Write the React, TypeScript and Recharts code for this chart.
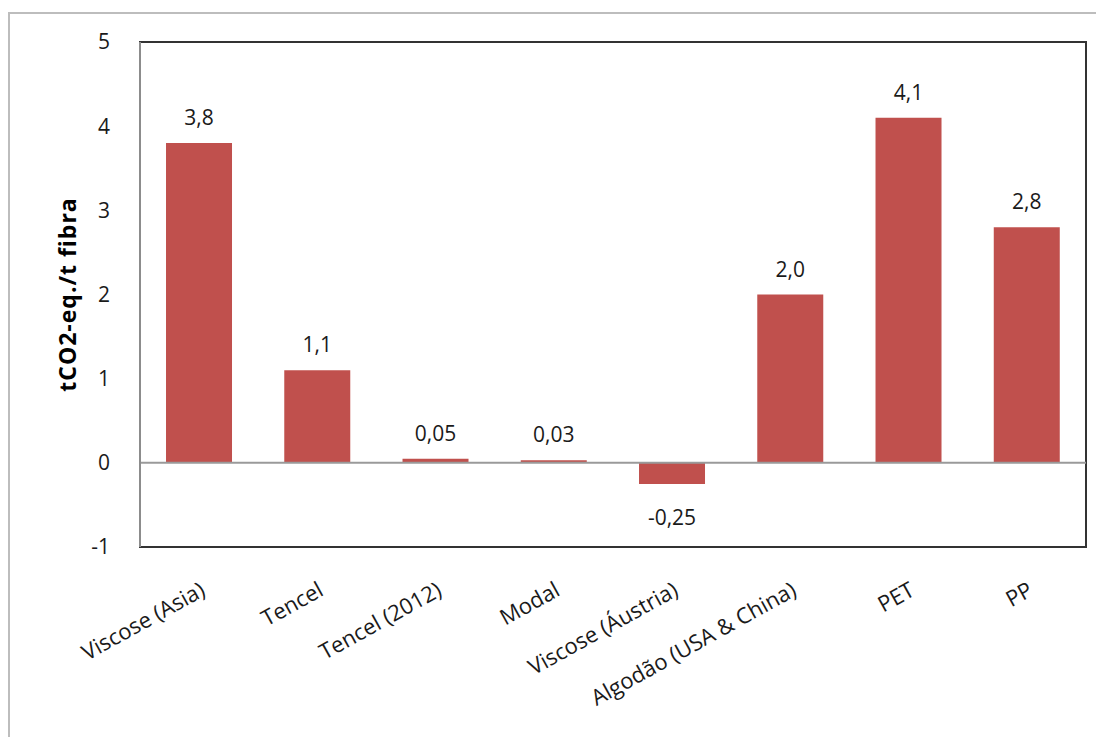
import React from "react";
import {
  BarChart,
  Bar,
  XAxis,
  YAxis,
  ReferenceLine,
  ReferenceArea,
  LabelList,
} from "recharts";

const categories = [
  "Viscose (Asia)",
  "Tencel",
  "Tencel (2012)",
  "Modal",
  "Viscose (Áustria)",
  "Algodão (USA & China)",
  "PET",
  "PP",
];
const values = [3.8, 1.1, 0.05, 0.03, -0.25, 2.0, 4.1, 2.8];
const valueLabels = ["3,8", "1,1", "0,05", "0,03", "-0,25", "2,0", "4,1", "2,8"];
const yTicks = [-1, 0, 1, 2, 3, 4, 5];
const yTitle = "tCO2-eq./t fibra";

const data = categories.map((c, i) => ({ name: c, value: values[i], label: valueLabels[i] }));

const FONT = "'Open Sans', 'Noto Sans', sans-serif";
const TEXT = "#1a1a1a";

const renderValueLabel = (props: any) => {
  const { x, y, width, height, index } = props;
  const v = values[index];
  const cx = x + width / 2;
  const top = Math.min(y, y + height);
  const bottom = Math.max(y, y + height);
  const ty = v >= 0 ? top - 18 : bottom + 41;
  return (
    <text x={cx} y={ty} textAnchor="middle" fontFamily={FONT} fontSize={21} fill={TEXT}>
      {valueLabels[index]}
    </text>
  );
};

export default function App() {
  return (
    <div style={{ position: "relative", width: 1096, height: 729 }}>
      <div
        style={{
          position: "absolute",
          left: 0,
          top: 4,
          width: 1096,
          height: 725,
          boxSizing: "border-box",
          borderTop: "2px solid #bdbdbd",
          borderLeft: "2px solid #bdbdbd",
        }}
      />
      <div style={{ position: "absolute", left: 0, top: 0 }}>
        <BarChart
          width={1096}
          height={729}
          data={data}
          margin={{ top: 34, right: 18, left: 0, bottom: 0 }}
          barCategoryGap="22%"
        >
          <ReferenceArea y1={-1} y2={5} fill="none" stroke="#333" strokeWidth={2} ifOverflow="extendDomain" />
          <XAxis
            dataKey="name"
            height={190}
            interval={0}
            axisLine={false}
            tickLine={false}
            tickMargin={28}
            angle={-29}
            textAnchor="end"
            tick={{ fontFamily: FONT, fontSize: 22, fill: TEXT }}
          />
          <YAxis
            width={132}
            domain={[-1, 5]}
            ticks={yTicks}
            interval={0}
            axisLine={{ stroke: "#8c8c8c", strokeWidth: 2 }}
            tickLine={false}
            tickMargin={24}
            tick={{ fontFamily: FONT, fontSize: 21, fill: TEXT }}
            label={{
              value: yTitle,
              angle: -90,
              position: "center",
              dx: -6,
              style: { fontFamily: FONT, fontSize: 23, fontWeight: "bold", fill: "#000", textAnchor: "middle", letterSpacing: 1 },
            }}
          />
          <ReferenceLine y={0} stroke="#9a9a9a" strokeWidth={2} />
          <Bar dataKey="value" fill="#C0504D" isAnimationActive={false}>
            <LabelList dataKey="label" content={renderValueLabel} />
          </Bar>
        </BarChart>
      </div>
    </div>
  );
}
